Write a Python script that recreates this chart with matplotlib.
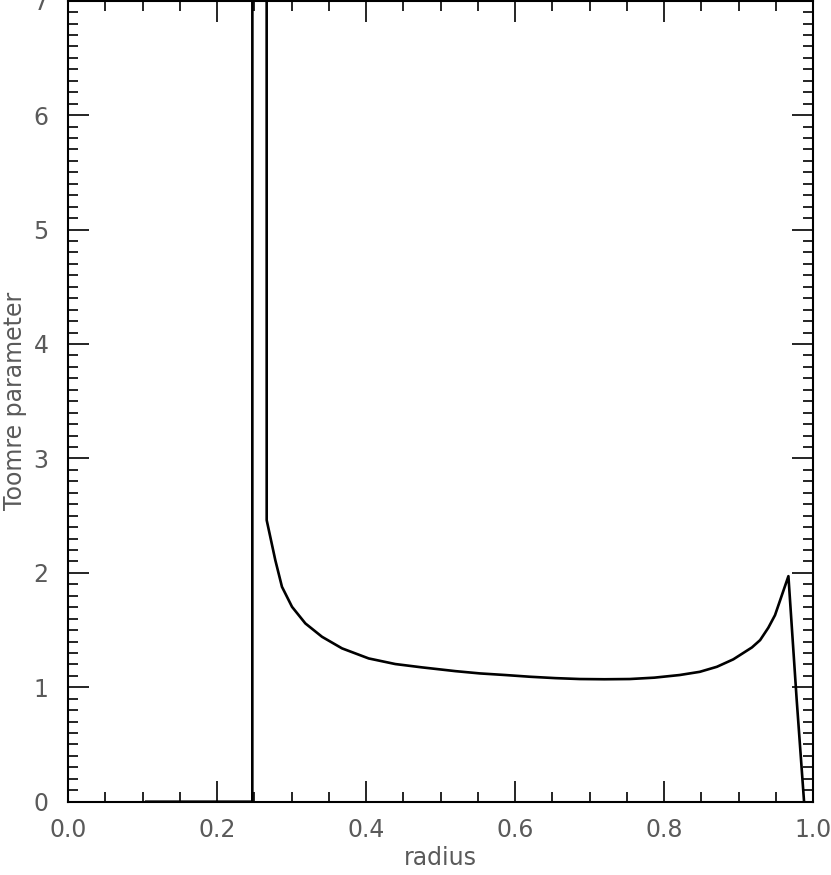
"""Toomre parameter against radius, IDL style plot."""

import numpy as np
import matplotlib.pyplot as plt
from matplotlib.ticker import MultipleLocator

# values
radius = [0.105, 0.2474, 0.257, 0.2667, 0.2783, 0.2872, 0.3007, 0.3186,
          0.341, 0.3678, 0.4036, 0.4393, 0.475, 0.520, 0.553, 0.587, 0.620,
          0.654, 0.687, 0.72, 0.754, 0.787, 0.821, 0.848, 0.871, 0.893,
          0.918, 0.929, 0.94, 0.949, 0.967, 0.978, 0.988]
toomre = [0.0, 0.0, 1000.0, 2.46, 2.11, 1.878, 1.703, 1.558,
          1.441, 1.34, 1.252, 1.203, 1.174, 1.141, 1.121, 1.107, 1.092,
          1.08, 1.072, 1.070, 1.072, 1.084, 1.107, 1.135, 1.179, 1.244,
          1.348, 1.412, 1.52, 1.63, 1.971, 0.9, 0.0]

x_ticks = [0.0, 0.2, 0.4, 0.6, 0.8, 1.0]
y_ticks = [0, 1, 2, 3, 4, 5, 6, 7]

plt.rcParams['font.family'] = ['DejaVu Sans']
text_color = '#5a5a5a'

fig = plt.figure(figsize=(8.31, 8.75), dpi=100)
ax = fig.add_axes([68/831, 73.3/875, 745/831, 801/875])

ax.plot(radius, toomre, color='black', lw=1.9)

ax.set_xlim(0, 1)
ax.set_ylim(0, 7)
ax.set_xticks(x_ticks)
ax.set_xticklabels(['%.1f' % v for v in x_ticks])
ax.set_yticks(y_ticks)
ax.set_yticklabels([str(v) for v in y_ticks])
ax.xaxis.set_minor_locator(MultipleLocator(0.05))
ax.yaxis.set_minor_locator(MultipleLocator(0.1))

ax.tick_params(which='both', direction='in', top=True, right=True,
               color='black', width=1.2, labelcolor=text_color, labelsize=17)
ax.tick_params(which='major', length=15)
ax.tick_params(which='minor', length=7)
ax.tick_params(axis='x', pad=12)
ax.tick_params(axis='y', pad=14)

for s in ax.spines.values():
    s.set_linewidth(1.5)

ax.set_xlabel('radius', fontsize=17, color=text_color)
ax.set_ylabel('Toomre parameter', fontsize=17, color=text_color)
ax.xaxis.set_label_coords(0.5, -0.055)
ax.yaxis.set_label_coords(-0.055, 0.5)

fig.savefig('out.png', dpi=100)
